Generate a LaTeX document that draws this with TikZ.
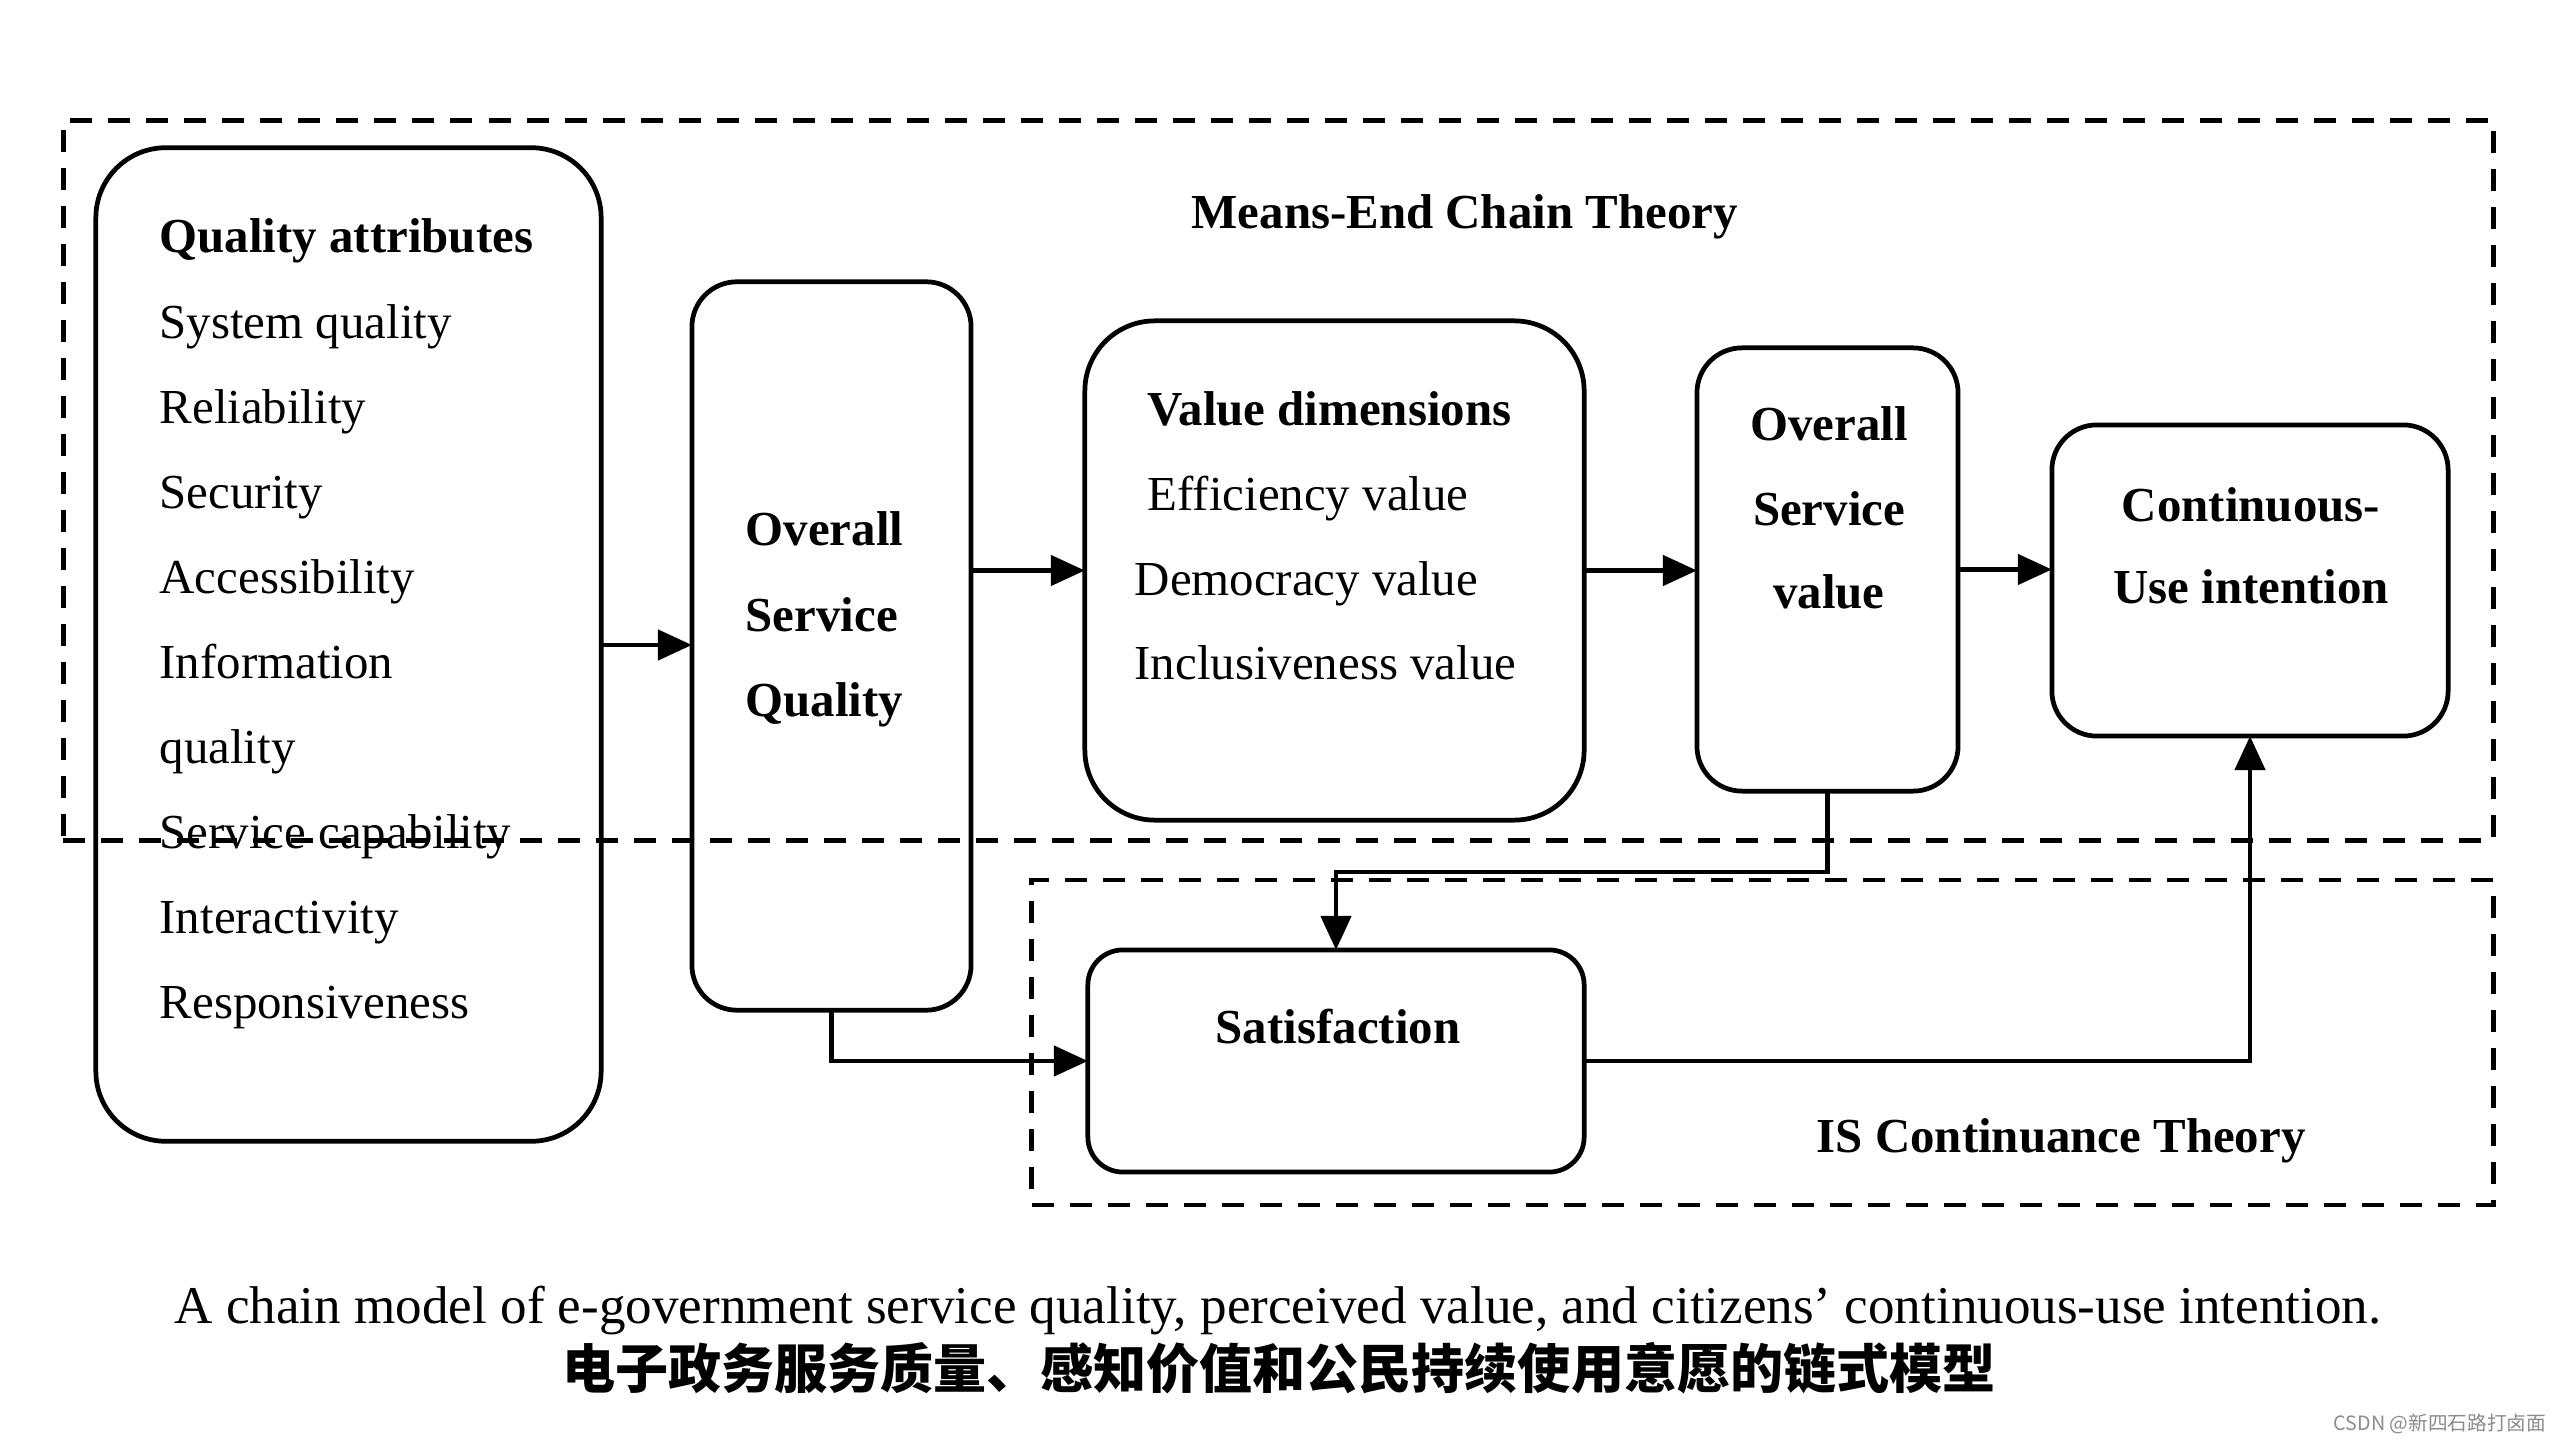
\documentclass[tikz,border=0pt]{standalone}
\usepackage{fontspec}
\setmainfont{Liberation Serif}
\newfontfamily\cjk{Noto Sans CJK SC}
\usetikzlibrary{arrows.meta}
\tikzset{
  frame/.style={draw, line width=0.048cm, dash pattern=on 0.22cm off 0.16cm, inner sep=0, outer sep=0},
  rbox/.style={draw, line width=1.35pt, rounded corners=#1, inner sep=0, outer sep=0},
  lbl/.style={inner sep=0, anchor=base west, font=\fontsize{13.9}{16}\selectfont},
  blbl/.style={inner sep=0, anchor=base west, font=\bfseries\fontsize{13.9}{16}\selectfont},
  cblbl/.style={inner sep=0, anchor=base, font=\bfseries\fontsize{13.9}{16}\selectfont},
  arr/.style={line width=1.3pt, -{Triangle[length=0.34cm,width=0.3cm]}},
}
\begin{document}
\begin{tikzpicture}[x=0.01cm,y=-0.01cm]
\useasboundingbox (0,0) rectangle (2560,1440);
\fill[white] (0,0) rectangle (2560,1440);

% theory frames
\node[frame, minimum width=24.29cm, minimum height=7.19cm] (me) at (1278.5,480.5) {};
\node[frame, minimum width=14.61cm, minimum height=3.25cm] (is) at (1762.5,1042.5) {};

% boxes
\node[rbox=0.7cm, minimum width=5.05cm, minimum height=9.93cm] (qa) at (348.5,644.5) {};
\node[rbox=0.45cm, minimum width=2.79cm, minimum height=7.28cm] (osq) at (831.5,646) {};
\node[rbox=0.7cm, minimum width=4.99cm, minimum height=4.99cm] (vd) at (1334.5,570.5) {};
\node[rbox=0.45cm, minimum width=2.61cm, minimum height=4.43cm] (osv) at (1827.5,569.5) {};
\node[rbox=0.45cm, minimum width=3.96cm, minimum height=3.11cm] (cui) at (2250,580.5) {};
\node[rbox=0.35cm, minimum width=4.96cm, minimum height=2.22cm] (sat) at (1336,1061) {};

% frame titles
\node[blbl] (metitle) at (1191,229) {Means-End Chain Theory};
\node[blbl] (istitle) at (1816,1152) {IS Continuance Theory};

% quality attributes
\node[blbl] (qa0) at (159,253) {Quality attributes};
\foreach \t [count=\i] in {System quality, Reliability, Security, Accessibility, Information, quality, Service capability, Interactivity, Responsiveness}
  \node[lbl] (qa\i) at (159,{253+\i*85.1}) {\t};

% overall service quality
\node[blbl] (osq1) at (745,546) {Overall};
\node[blbl] (osq2) at (745,632) {Service};
\node[blbl] (osq3) at (745,717) {Quality};

% value dimensions
\node[blbl] (vd0) at (1147,426) {Value dimensions};
\node[lbl] (vd1) at (1147,511) {Efficiency value};
\node[lbl] (vd2) at (1134,596) {Democracy value};
\node[lbl] (vd3) at (1134,680) {Inclusiveness value};

% overall service value
\node[cblbl] (osv1) at (1829,441) {Overall};
\node[cblbl] (osv2) at (1829,526) {Service};
\node[cblbl] (osv3) at (1829,609) {value};

% continuous-use intention
\node[cblbl] (cui1) at (2251,522) {Continuous-};
\node[cblbl] (cui2) at (2251,604) {Use intention};

% satisfaction
\node[cblbl] (sat1) at (1338,1043) {Satisfaction};

% connectors
\draw[arr] (qa.east |- 0,645) -- (osq.west |- 0,645);
\draw[arr] (osq.east |- vd.west) -- (vd.west);
\draw[arr] (vd.east) -- (vd.east -| osv.west);
\draw[arr] (osv.east) -- (osv.east -| cui.west);
\coordinate (k1) at (1827.5,872);
\draw[arr] (osv.south) -- (k1) -| (sat.north);
\draw[arr] (osq.south) |- (sat.west);
\draw[arr] (sat.east) -| (cui.south);

% captions
\node[inner sep=0, anchor=base, font=\fontsize{15.1}{17}\selectfont] (cap1) at (1278,1323) {A chain model of e-government service quality, perceived value, and citizens' continuous-use intention.};
\node[inner sep=0, anchor=base, font=\cjk\bfseries\fontsize{15.1}{18}\selectfont] (cap2) at (1279,1388) {电子政务服务质量、感知价值和公民持续使用意愿的链式模型};
\node[inner sep=0, anchor=base west, font=\cjk\fontsize{5.6}{6}\selectfont, text=black!45] (wm) at (2333,1430) {CSDN @新四石路打卤面};
\end{tikzpicture}
\end{document}
